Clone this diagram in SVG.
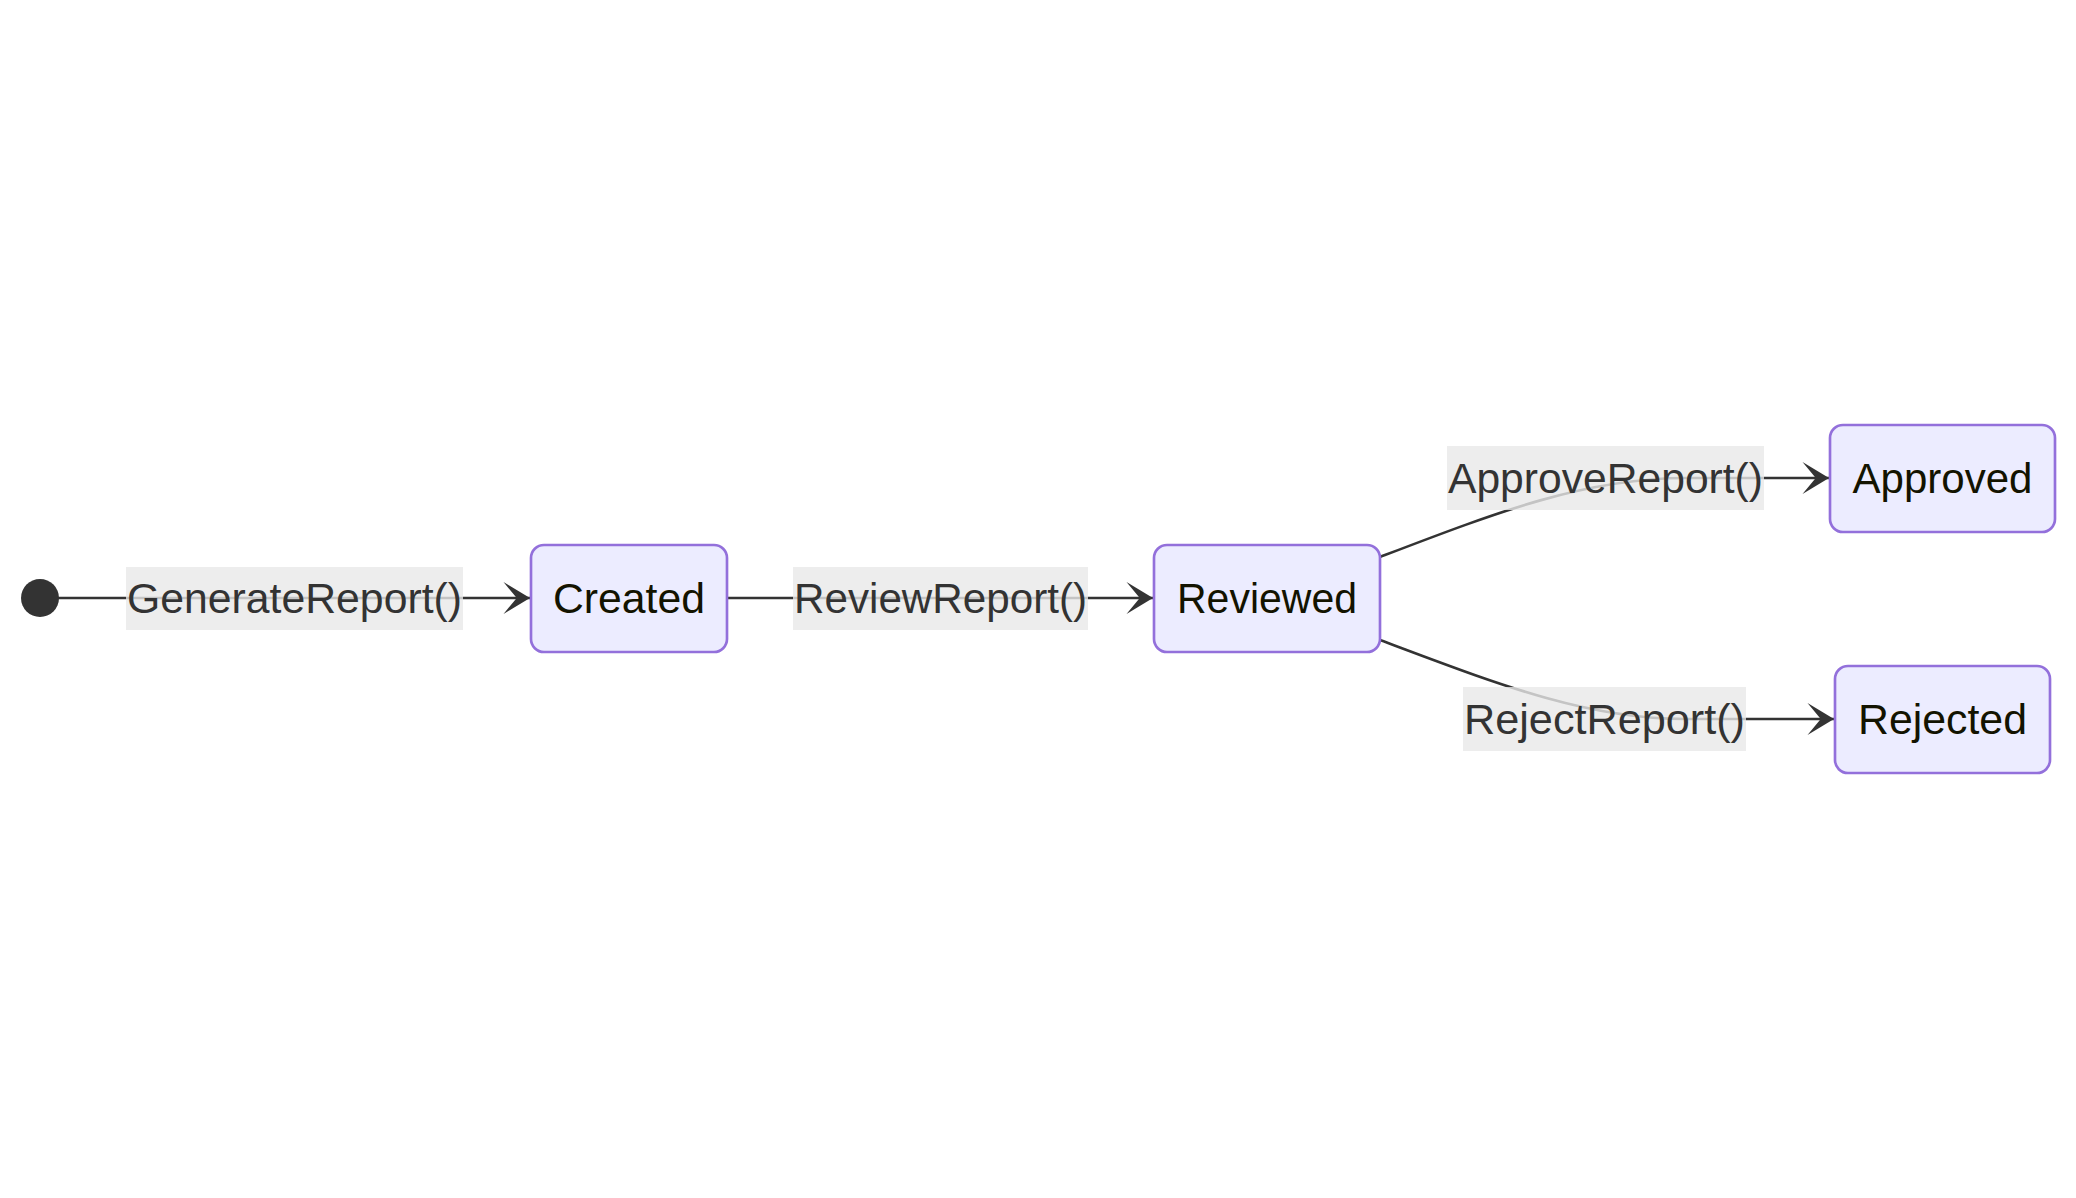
<svg xmlns="http://www.w3.org/2000/svg" width="2076" height="1198" viewBox="0 0 2076 1198">
<style>
.node rect{fill:#ECECFF;stroke:#9370DB;stroke-width:2.65}
.node text{font-family:"Liberation Sans",Arial,sans-serif;font-size:42px;fill:#131300;text-anchor:middle;dominant-baseline:central}
.edge{fill:none;stroke:#333333;stroke-width:2.65}
.lbl rect{fill:#e8e8e8;fill-opacity:0.8}
.lbl text{font-family:"Liberation Sans",Arial,sans-serif;font-size:42px;fill:#333333;text-anchor:middle;dominant-baseline:central}
</style>
<defs>
<marker id="barb" viewBox="0 0 20 14" refX="19" refY="7" markerWidth="53" markerHeight="37.1" markerUnits="userSpaceOnUse" orient="auto">
<path d="M 19,7 L9,13 L14,7 L9,1 Z" fill="#333333"/>
</marker>
</defs>
<rect width="2076" height="1198" fill="#ffffff"/>
<g id="connectors">
<path class="edge" d="M58,598 L530,598" marker-end="url(#barb)"/>
<path class="edge" d="M727,598 L1153,598" marker-end="url(#barb)"/>
<path class="edge" d="M1380,557 C1495,513 1585,478 1685,478 L1829,478" marker-end="url(#barb)"/>
<path class="edge" d="M1380,640 C1495,683 1585,719 1685,719 L1834,719" marker-end="url(#barb)"/>
</g>
<g id="edge-labels">
<g class="lbl" id="label-generate"><rect x="126" y="567" width="337" height="63"/><text x="294.5" y="598" textLength="335" lengthAdjust="spacingAndGlyphs">GenerateReport()</text></g>
<g class="lbl" id="label-review"><rect x="793" y="567" width="295" height="63"/><text x="940.5" y="598" textLength="293" lengthAdjust="spacingAndGlyphs">ReviewReport()</text></g>
<g class="lbl" id="label-approve"><rect x="1447" y="446" width="317" height="64"/><text x="1605.5" y="478" textLength="315" lengthAdjust="spacingAndGlyphs">ApproveReport()</text></g>
<g class="lbl" id="label-reject"><rect x="1463" y="687" width="283" height="64"/><text x="1604.5" y="719" textLength="281" lengthAdjust="spacingAndGlyphs">RejectReport()</text></g>
</g>
<g id="start"><circle cx="40" cy="598" r="19" fill="#333333"/></g>
<g class="node" id="Created"><rect x="531" y="545" width="196" height="107" rx="13" ry="13"/><text x="629" y="598.5" textLength="152" lengthAdjust="spacingAndGlyphs">Created</text></g>
<g class="node" id="Reviewed"><rect x="1154" y="545" width="226" height="107" rx="13" ry="13"/><text x="1267" y="598.5" textLength="180" lengthAdjust="spacingAndGlyphs">Reviewed</text></g>
<g class="node" id="Approved"><rect x="1830" y="425" width="225" height="107" rx="13" ry="13"/><text x="1942.5" y="478.5" textLength="180" lengthAdjust="spacingAndGlyphs">Approved</text></g>
<g class="node" id="Rejected"><rect x="1835" y="666" width="215" height="107" rx="13" ry="13"/><text x="1942.5" y="719.5" textLength="169" lengthAdjust="spacingAndGlyphs">Rejected</text></g>
</svg>
